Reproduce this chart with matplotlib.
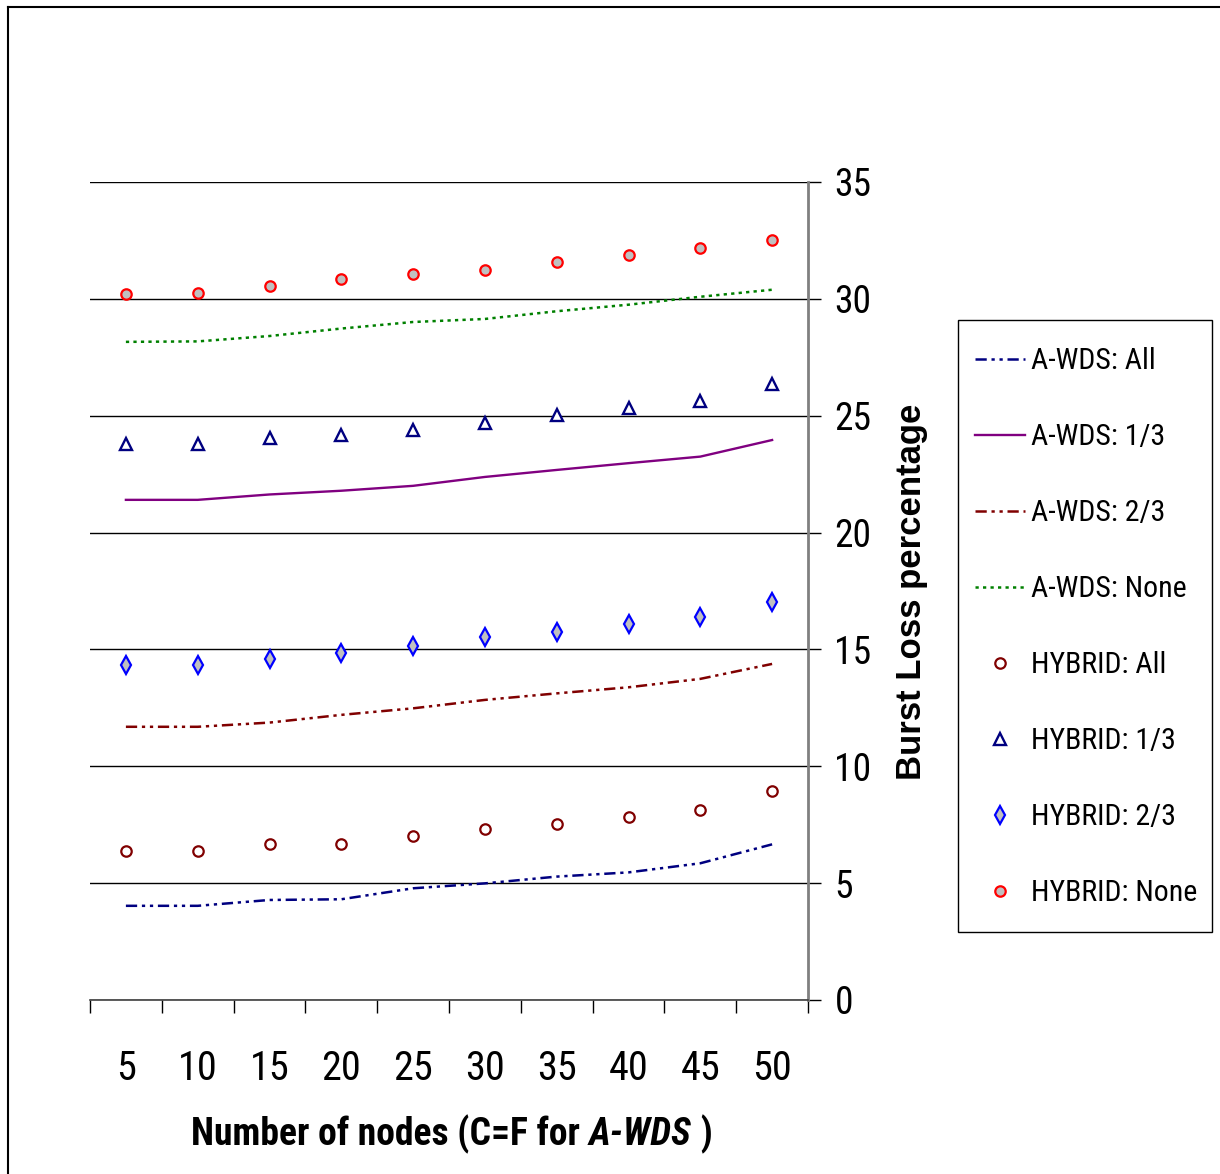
import matplotlib
matplotlib.use("Agg")
import matplotlib.pyplot as plt
from matplotlib import font_manager
from matplotlib.font_manager import FontProperties
from matplotlib.lines import Line2D
from matplotlib.patches import Rectangle
import numpy as np

# categories (number of nodes)
nodes = [5, 10, 15, 20, 25, 30, 35, 40, 45, 50]

# A-WDS series (lines)
awds_all = [4.03, 4.03, 4.28, 4.31, 4.78, 4.99, 5.28, 5.46, 5.85, 6.66]
awds_13 = [21.40, 21.40, 21.63, 21.79, 22.00, 22.38, 22.68, 22.97, 23.25, 23.96]
awds_23 = [11.69, 11.69, 11.87, 12.20, 12.48, 12.84, 13.12, 13.38, 13.74, 14.38]
awds_none = [28.16, 28.18, 28.41, 28.73, 29.01, 29.14, 29.47, 29.75, 30.09, 30.39]

# HYBRID series (markers only)
hyb_all = [6.39, 6.39, 6.66, 6.66, 7.03, 7.32, 7.54, 7.83, 8.13, 8.93]
hyb_13 = [23.79, 23.79, 24.04, 24.18, 24.39, 24.70, 25.03, 25.32, 25.63, 26.36]
hyb_23 = [14.33, 14.33, 14.58, 14.86, 15.15, 15.52, 15.73, 16.09, 16.40, 17.04]
hyb_none = [30.21, 30.25, 30.55, 30.85, 31.07, 31.24, 31.58, 31.88, 32.18, 32.52]


def _weight(f):
    w = f.weight
    if isinstance(w, str):
        return 700 if 'bold' in w.lower() else 400
    return w


def pick_narrow(bold=False, italic=False):
    # look for an installed narrow / condensed sans face
    prefs = ['Liberation Sans Narrow', 'Roboto Condensed', 'Open Sans Condensed', 'Noto Sans', 'Open Sans', 'Roboto']
    want = 700 if bold else 400
    for p in prefs:
        for f in font_manager.fontManager.ttflist:
            if not f.name.startswith(p) or 'Mono' in f.name or 'CJK' in f.name:
                continue
            cond = ('Narrow' in f.name or 'Condensed' in f.name or 'Condensed' in f.fname
                    or f.stretch in ('condensed', 'semi-condensed', 'extra-condensed'))
            if not cond or 'Extra' in f.fname or 'Semi' in f.fname:
                continue
            if abs(_weight(f) - want) > 100:
                continue
            if (f.style != 'normal') != italic:
                continue
            return FontProperties(fname=f.fname)
    return None


fp_reg = pick_narrow()
fp_bold = pick_narrow(bold=True)
fp_bi = pick_narrow(bold=True, italic=True)
if fp_reg is None:
    fp_reg = FontProperties(family='Liberation Sans')
if fp_bold is None:
    fp_bold = FontProperties(family='Liberation Sans', weight='bold')
if fp_bi is None:
    fp_bi = FontProperties(family='Liberation Sans', weight='bold', style='italic')

W, H = 1220, 1174
fig = plt.figure(figsize=(W / 100, H / 100), dpi=100)
r = fig.canvas.get_renderer()


def fit_size(fp, text, target_px, start):
    t = fig.text(0, 0, text, fontproperties=fp, fontsize=start)
    w = t.get_window_extent(r).width
    t.remove()
    return start * target_px / w


# frame lines (top and left only)
fig.add_artist(Line2D([8 / W, 8 / W], [0, 1 - 7 / H], transform=fig.transFigure, color='black', lw=1.5))
fig.add_artist(Line2D([8 / W, 1], [1 - 7 / H, 1 - 7 / H], transform=fig.transFigure, color='black', lw=1.5))

ax = fig.add_axes([90 / W, (H - 1000) / H, 718 / W, 818 / H])
x = np.arange(len(nodes))

dashdotdot = (0, (4.5, 1.9, 1.3, 1.9, 1.3, 1.9))
ax.plot(x, awds_all, color='#000080', lw=1.8, linestyle=dashdotdot, label='A-WDS: All')
ax.plot(x, awds_13, color='#800080', lw=1.7, label='A-WDS: 1/3')
ax.plot(x, awds_23, color='#800000', lw=1.8, linestyle=dashdotdot, label='A-WDS: 2/3')
ax.plot(x, awds_none, color='#008000', lw=1.8, linestyle=(0, (1.3, 1.7)), label='A-WDS: None')

ax.plot(x, hyb_all, ls='none', marker='o', ms=7.5, mfc='white', mec='#800000', mew=1.6, label='HYBRID: All')
ax.plot(x, hyb_13, ls='none', marker='^', ms=8.5, mfc='white', mec='#000080', mew=1.7, label='HYBRID: 1/3')
ax.plot(x, hyb_23, ls='none', marker='d', ms=9, mfc='#C0C0C0', mec='#0000FF', mew=1.6, label='HYBRID: 2/3')
ax.plot(x, hyb_none, ls='none', marker='o', ms=7.5, mfc='#C0C0C0', mec='#FF0000', mew=1.6, label='HYBRID: None')

ax.set_xlim(-0.5, len(nodes) - 0.5)
ax.set_ylim(0, 35)
ax.yaxis.tick_right()
ax.grid(axis='y', color='black', lw=1)
ax.set_axisbelow(True)

ax.set_xticks(x)
ax.set_xticklabels([str(n) for n in nodes], fontproperties=fp_reg, fontsize=29)
ax.set_xticks(np.arange(-0.5, len(nodes)), minor=True)
ax.tick_params(axis='x', which='major', length=0, pad=35)
ax.tick_params(axis='x', which='minor', length=9, width=1, direction='out')
ax.tick_params(axis='y', length=9, width=1, direction='out', pad=10)
ax.set_yticks(range(0, 36, 5))
ax.set_yticklabels([str(v) for v in range(0, 36, 5)], fontproperties=fp_reg, fontsize=27)

for s in ['top', 'left']:
    ax.spines[s].set_visible(False)
ax.spines['right'].set_color('#808080')
ax.spines['right'].set_linewidth(2)
ax.spines['bottom'].set_color('#404040')
ax.spines['bottom'].set_linewidth(1.2)

fig.text(911 / W, 1 - 592 / H, 'Burst Loss percentage', rotation=90, ha='center', va='center',
         fontfamily='Liberation Sans', fontweight='bold', fontsize=25)

# legend: box drawn separately, entries placed by anchor
leg_size = min(24, fit_size(fp_reg, 'HYBRID: None', 166, 22))
leg_px = leg_size * 100 / 72
fig.add_artist(Rectangle((958 / W, 1 - 932 / H), (1212 - 958) / W, (932 - 320) / H,
                         transform=fig.transFigure, fill=False, edgecolor='black', lw=1))
leg_fp = fp_reg.copy()
leg_fp.set_size(leg_size)


def make_legend(spacing, top_px):
    return fig.legend(loc='upper left', bbox_to_anchor=(975 / W, 1 - top_px / H), frameon=False,
                      prop=leg_fp, numpoints=1, handlelength=50 / leg_px,
                      handletextpad=6 / leg_px, labelspacing=spacing,
                      borderpad=0, borderaxespad=0)


# first pass, then correct row pitch (76 px) and first row centre
spacing = 1.5
top = 340
leg = make_legend(spacing, top)
fig.canvas.draw()
cy = [H - (t.get_window_extent(r).y0 + t.get_window_extent(r).y1) / 2 for t in leg.get_texts()]
pitch = (cy[-1] - cy[0]) / (len(cy) - 1)
leg.remove()
spacing += (76 - pitch) / leg_px
top += 361 - cy[0]
leg = make_legend(spacing, top)

# x axis label with italic A-WDS
parts = [('Number of nodes (C=F for ', fp_bold), ('A-WDS', fp_bi), (' )', fp_bold)]
xl_size = min(31, fit_size(fp_bold, 'Number of nodes (C=F for A-WDS )', 525, 28))
texts = [fig.text(0, 1 - 1145 / H, s, fontproperties=fp, fontsize=xl_size,
                  va='baseline', ha='left') for s, fp in parts]
widths = [t.get_window_extent(r).width for t in texts]
xpos = 452 - sum(widths) / 2
for t, w in zip(texts, widths):
    t.set_x(xpos / W)
    xpos += w

fig.savefig('out.png', dpi=100)
